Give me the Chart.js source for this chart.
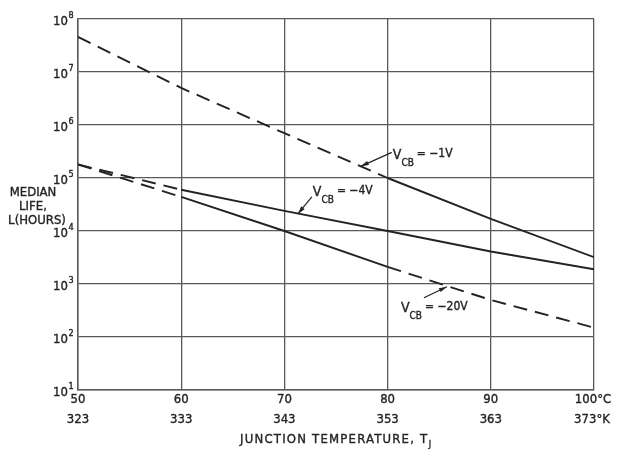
<!DOCTYPE html>
<html><head><meta charset="utf-8">
<script src="https://cdn.jsdelivr.net/npm/chart.js@4/dist/chart.umd.min.js"></script>
<style>html,body{margin:0;padding:0;background:#fff;}</style>
</head><body>
<canvas id="c" width="619" height="450"></canvas>
<script>
// ---- data ----
const temperaturesC = [50, 60, 70, 80, 90, 100];
const temperaturesK = [323, 333, 343, 353, 363, 373];
const life1V  = [4.6e7, 5.0e6, 7.0e5, 1.0e5, 1.7e4, 3.2e3];
const life4V  = [1.8e5, 6.0e4, 2.4e4, 1.0e4, 4.1e3, 1.9e3];
const life20V = [1.8e5, 4.4e4, 1.0e4, 2.1e3, 5.0e2, 1.5e2];
// segment styles (between consecutive points)
const style1V  = ['dash', 'dash', 'dash', 'solid', 'solid'];
const style4V  = ['dash', 'solid', 'solid', 'solid', 'solid'];
const style20V = ['dash', 'solid', 'solid', 'dash', 'dash'];
const yTickExponents = [1, 2, 3, 4, 5, 6, 7, 8];
const seriesVoltages = ['\u22121V', '\u22124V', '\u221220V'];
const xTitle = 'JUNCTION TEMPERATURE, T';
const xTitleSub = 'J';
const yTitleLines = ['MEDIAN', 'LIFE,', 'L(HOURS)'];

const INK = '#232323';
const GRID = '#5a5a5a';
const FONT = '"DejaVu Sans Condensed", "Liberation Sans Narrow", "DejaVu Sans", sans-serif';

function mkDataset(label, values, styles) {
  return {
    label,
    data: temperaturesC.map((t, i) => ({ x: t, y: values[i] })),
    borderColor: INK,
    borderWidth: 1.9,
    pointRadius: 0,
    fill: false,
    tension: 0,
    segment: {
      borderDash: ctx => styles[ctx.p0DataIndex] === 'dash' ? [14, 8] : []
    }
  };
}

// annotation: tip on the curve (data coords), tail & text offsets in px
const annotations = [
  { volt: seriesVoltages[0], tip: { x: 77.4, y: 1.66e5 }, tail: [31, -14], text: [32, -7] },
  { volt: seriesVoltages[1], tip: { x: 71.3, y: 2.1e4 }, tail: [14, -17], text: [15, -18] },
  { volt: seriesVoltages[2], tip: { x: 85.75, y: 8.9e2 }, tail: [-23, 11], text: [-46, 25] }
];

function arrow(ctx, x0, y0, x1, y1) {
  ctx.beginPath(); ctx.moveTo(x0, y0); ctx.lineTo(x1, y1); ctx.stroke();
  const a = Math.atan2(y1 - y0, x1 - x0), L = 8, W = 2.2;
  ctx.beginPath();
  ctx.moveTo(x1, y1);
  ctx.lineTo(x1 - L * Math.cos(a) + W * Math.sin(a), y1 - L * Math.sin(a) - W * Math.cos(a));
  ctx.lineTo(x1 - L * Math.cos(a) - W * Math.sin(a), y1 - L * Math.sin(a) + W * Math.cos(a));
  ctx.closePath(); ctx.fill();
}

function txt(ctx, s, x, y) {
  ctx.fillText(s, x, y);
  ctx.strokeText(s, x, y);
}

const decor = {
  id: 'decor',
  afterDraw(chart) {
    const { ctx, scales: { x, y } } = chart;
    ctx.save();
    ctx.fillStyle = INK; ctx.strokeStyle = INK;
    ctx.textBaseline = 'alphabetic';
    ctx.lineWidth = 0.35;
    // y tick labels 10^n
    yTickExponents.forEach(e => {
      const py = y.getPixelForValue(Math.pow(10, e));
      ctx.font = '13px ' + FONT; ctx.textAlign = 'right';
      txt(ctx, '10', 68, py + 6);
      ctx.font = '9px ' + FONT; ctx.textAlign = 'left';
      txt(ctx, String(e), 68.5, py - 1);
    });
    // x tick labels (two rows)
    temperaturesC.forEach((t, i) => {
      const px = x.getPixelForValue(t);
      const last = i === temperaturesC.length - 1;
      ctx.font = '13px ' + FONT; ctx.textAlign = 'center';
      txt(ctx, last ? t + '\u00B0C' : String(t), last ? px - 1 : px, 403);
      txt(ctx, last ? temperaturesK[i] + '\u00B0K' : String(temperaturesK[i]), last ? px - 2 : px, 423);
    });
    // x title with subscript
    ctx.letterSpacing = '1.2px';
    ctx.font = '13px ' + FONT;
    const w1 = ctx.measureText(xTitle).width;
    ctx.font = '9px ' + FONT;
    const w2 = ctx.measureText(xTitleSub).width;
    const cx = (chart.chartArea.left + chart.chartArea.right) / 2;
    let sx = cx - (w1 + w2) / 2;
    ctx.textAlign = 'left';
    ctx.font = '13px ' + FONT;
    txt(ctx, xTitle, sx, 443);
    ctx.font = '9px ' + FONT;
    txt(ctx, xTitleSub, sx + w1 + 0.5, 447);
    ctx.letterSpacing = '0px';
    // y title (horizontal, stacked)
    ctx.font = '13px ' + FONT; ctx.textAlign = 'center';
    yTitleLines.forEach((l, i) => txt(ctx, l, i === 2 ? 37 : 33, 196 + i * 14));
    // annotations
    annotations.forEach(a => {
      const tx = x.getPixelForValue(a.tip.x), ty = y.getPixelForValue(a.tip.y);
      ctx.lineWidth = 1.2;
      arrow(ctx, tx + a.tail[0], ty + a.tail[1], tx, ty);
      ctx.lineWidth = 0.35;
      let px = tx + a.text[0]; const by = ty + a.text[1];
      ctx.textAlign = 'left';
      ctx.font = '14px ' + FONT; txt(ctx, 'V', px, by);
      px += ctx.measureText('V').width;
      ctx.font = '10px ' + FONT; txt(ctx, 'CB', px, by + 7);
      px += ctx.measureText('CB').width + 3;
      ctx.font = '12px ' + FONT; txt(ctx, '= ' + a.volt, px, by - 2);
    });
    ctx.restore();
  }
};

new Chart(document.getElementById('c'), {
  type: 'line',
  data: {
    datasets: [
      mkDataset('VCB = ' + seriesVoltages[0], life1V, style1V),
      mkDataset('VCB = ' + seriesVoltages[1], life4V, style4V),
      mkDataset('VCB = ' + seriesVoltages[2], life20V, style20V)
    ]
  },
  options: {
    responsive: false,
    animation: false,
    devicePixelRatio: 1,
    layout: { padding: { top: 19, right: 25, left: 0, bottom: 0 } },
    plugins: { legend: { display: false }, tooltip: { enabled: false } },
    scales: {
      x: {
        type: 'linear', min: 50, max: 100,
        ticks: { stepSize: 10, display: false },
        grid: { color: GRID, lineWidth: 1.3, drawTicks: false },
        border: { color: GRID, width: 1.5 },
        afterFit: s => { s.height = 60; }
      },
      y: {
        type: 'logarithmic', min: 10, max: 1e8,
        afterBuildTicks: s => { s.ticks = yTickExponents.map(e => ({ value: Math.pow(10, e) })); },
        ticks: { display: false },
        grid: { color: GRID, lineWidth: 1.3, drawTicks: false },
        border: { color: GRID, width: 1.5 },
        afterFit: s => { s.width = 78; }
      }
    }
  },
  plugins: [decor]
});
</script>
</body></html>
